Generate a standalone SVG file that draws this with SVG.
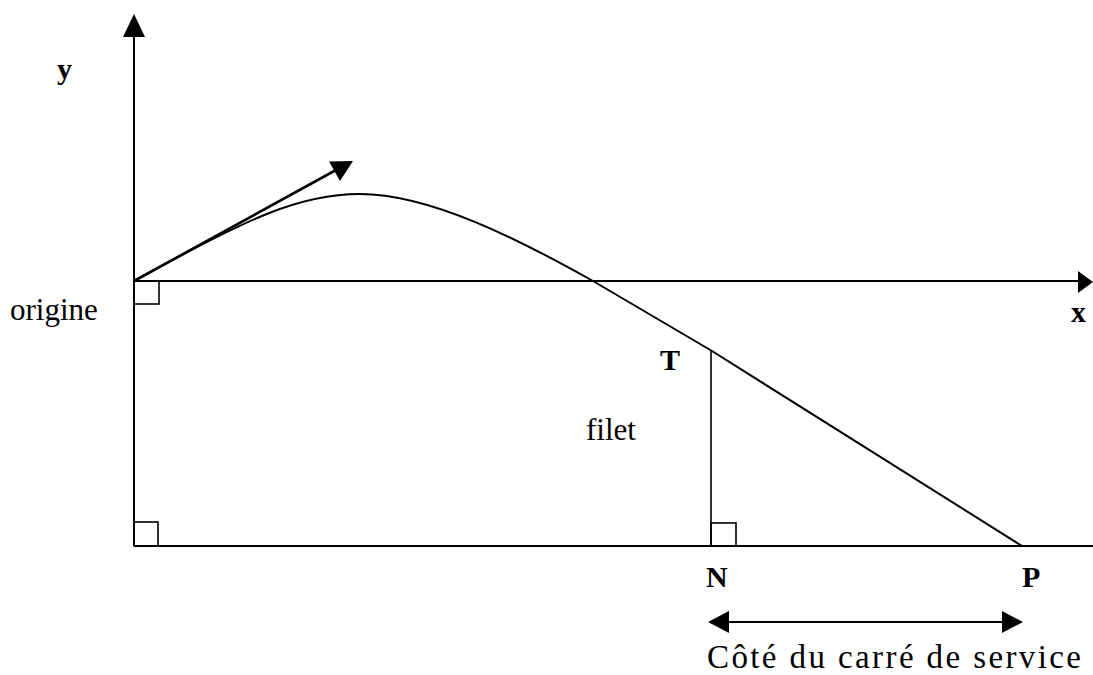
<svg xmlns="http://www.w3.org/2000/svg" width="1093" height="675" viewBox="0 0 1093 675">
<style>
.ax{stroke:#000;stroke-width:2;fill:none}
.thin{stroke:#000;stroke-width:1.6;fill:none}
.head{fill:#000;stroke:none}
.lbl{font-family:"Times New Roman","Liberation Serif","DejaVu Serif",serif;font-size:31px;fill:#000}
.b{font-weight:bold;font-size:30px}
</style>
<rect width="1093" height="675" fill="#fff"/>
<g id="connectors">
<line class="ax" x1="134" y1="34" x2="134" y2="546"/>
<polygon class="head" points="134,14 123,37 145,37"/>
<line class="ax" x1="134" y1="281" x2="1080" y2="281"/>
<polygon class="head" points="1093,282 1078,271 1078,293"/>
<line class="ax" x1="134" y1="546" x2="1093" y2="546"/>
<path class="ax" d="M134,281 C250,217 300,194 360,194 C430,194 520,240 593,281 L712,351 L1022,546"/>
<line stroke="#000" stroke-width="2.6" x1="134" y1="281" x2="336" y2="170"/>
<polygon class="head" points="353,161 329,161.5 340,181"/>
<line class="thin" x1="711" y1="351" x2="711" y2="546"/>
<line class="ax" x1="726" y1="622" x2="1005" y2="622"/>
<polygon class="head" points="708,622 729,611 729,633"/>
<polygon class="head" points="1023,622 1002,611 1002,633"/>
</g>
<g id="right-angles">
<rect class="thin" x="134" y="281" width="25" height="23"/>
<rect class="thin" x="134" y="522" width="24" height="24"/>
<rect class="thin" x="711" y="523" width="25" height="23"/>
</g>
<g id="labels">
<text class="lbl b" x="57" y="79">y</text>
<text class="lbl b" x="1071" y="322">x</text>
<text class="lbl" x="10" y="320">origine</text>
<text class="lbl b" x="660" y="370">T</text>
<text class="lbl" x="586" y="440">filet</text>
<text class="lbl b" x="706" y="587">N</text>
<text class="lbl b" x="1022" y="587">P</text>
<text class="lbl" x="707" y="668" style="font-size:33px" textLength="374" lengthAdjust="spacing">Côté du carré de service</text>
</g>
</svg>
